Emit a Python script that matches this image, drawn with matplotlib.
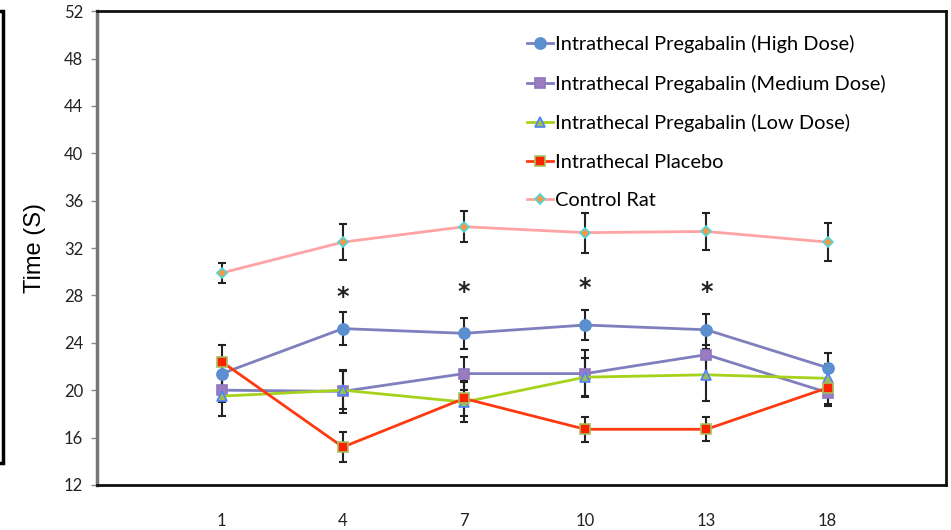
import matplotlib
matplotlib.use("Agg")
from matplotlib import pyplot as plt
from matplotlib.patches import Rectangle
import numpy as np

# days on x axis (categorical)
days = ['1', '4', '7', '10', '13', '18']

# mean times (s) and errors
high_dose = [21.4, 25.2, 24.8, 25.5, 25.1, 21.9]
high_err = [1.3, 1.4, 1.3, 1.25, 1.3, 1.2]
medium_dose = [20.0, 19.9, 21.4, 21.4, 23.0, 19.8]
medium_err = [1.0, 1.8, 1.4, 2.0, 2.0, 1.0]
low_dose = [19.5, 20.0, 19.0, 21.1, 21.3, 21.0]
low_err = [1.7, 1.6, 1.7, 1.6, 2.2, 1.2]
placebo = [22.4, 15.2, 19.3, 16.7, 16.7, 20.2]
placebo_err = [1.4, 1.3, 1.5, 1.05, 1.0, 1.5]
control = [29.9, 32.5, 33.8, 33.3, 33.4, 32.5]
control_err = [0.85, 1.5, 1.3, 1.7, 1.6, 1.6]

# significance stars (day index, height)
star_idx = [1, 2, 3, 4]
star_y = [27.9, 28.3, 28.6, 28.3]

x = np.arange(len(days))

fig = plt.figure(figsize=(9.51, 5.30), dpi=100)
ax = fig.add_axes([0.102, 0.085, 0.893, 0.894])

legend_font = 'Lato'

series = [
    (high_dose, high_err, 'Intrathecal Pregabalin (High Dose)', '#7f7fbd', 'o', '#5b8fd0', '#5b8fd0', 8),
    (medium_dose, medium_err, 'Intrathecal Pregabalin (Medium Dose)', '#7f7fbd', 's', '#9a7cc0', '#8e78c0', 7),
    (low_dose, low_err, 'Intrathecal Pregabalin (Low Dose)', '#a6d21c', '^', '#9bbb59', '#4f81ff', 7.5),
    (placebo, placebo_err, 'Intrathecal Placebo', '#ff3a10', 's', '#ff2200', '#a6c060', 7),
    (control, control_err, 'Control Rat', '#ffa3a3', 'D', '#f79646', '#4bd8d8', 5.5),
]

for vals, err, label, col, mk, face, edge, ms in series:
    ax.errorbar(x, vals, yerr=err, fmt='none', ecolor='#222222', elinewidth=1.5,
                capsize=3, capthick=1.5, zorder=2)
    ax.plot(x, vals, color=col, lw=2.0, marker=mk, markersize=ms,
            markerfacecolor=face, markeredgecolor=edge, markeredgewidth=1.2,
            label=label, zorder=3)

for i, yv in zip(star_idx, star_y):
    ax.text(x[i], yv, '*', ha='center', va='center', fontsize=17,
            fontweight='bold', color='#222222')

ax.set_xlim(-1.03, 5.98)
ax.set_ylim(12, 52)
ax.set_yticks(np.arange(12, 53, 4))
ax.set_xticks(x)
ax.set_xticklabels(days)
ax.tick_params(axis='x', length=0, pad=20, labelsize=12, labelcolor='#222222')
ax.tick_params(axis='y', length=4, width=1, color='#888888', labelsize=12,
               labelcolor='#222222', pad=6)
for lab in ax.get_xticklabels() + ax.get_yticklabels():
    lab.set_fontfamily(legend_font)

for s in ['top', 'bottom', 'right']:
    ax.spines[s].set_color('#111111')
    ax.spines[s].set_linewidth(2)
ax.spines['left'].set_color('#777777')
ax.spines['left'].set_linewidth(2.5)

ax.set_ylabel('Time (S)', fontsize=17, family='Liberation Sans', labelpad=13)

leg = ax.legend(loc='upper left', bbox_to_anchor=(0.497, 0.966), frameon=False,
                prop={'family': legend_font, 'size': 14.4}, labelspacing=1.07,
                handlelength=1.3, handletextpad=0.1, borderaxespad=0)

# cropped black frame at the far left edge
fig.add_artist(Rectangle((-0.2, 0.127), 0.203, 0.853, transform=fig.transFigure,
                         fill=False, edgecolor='black', lw=2.5))

fig.savefig('out.png', dpi=100)
